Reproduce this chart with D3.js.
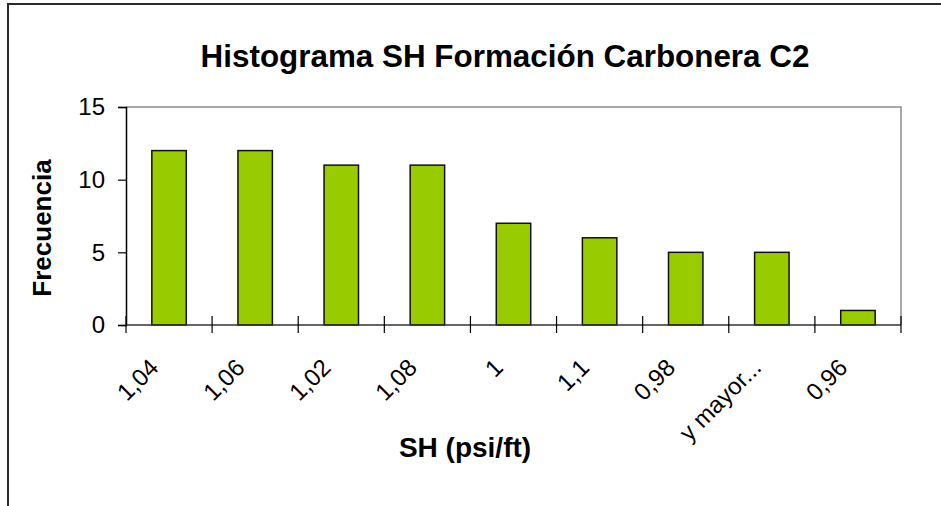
<!DOCTYPE html>
<html>
<head>
<meta charset="utf-8">
<script src="https://cdn.jsdelivr.net/npm/d3@7"></script>
<style>
  html, body { margin: 0; padding: 0; background: #fff; }
  svg { display: block; font-family: Arial, "Liberation Sans", sans-serif; }
</style>
</head>
<body>
<svg id="chart" width="941" height="506"></svg>
<script>
// Histogram bins (as labelled) and their frequencies
const categories = ["1,04", "1,06", "1,02", "1,08", "1", "1,1", "0,98", "y mayor...", "0,96"];
const frequencies = [12, 12, 11, 11, 7, 6, 5, 5, 1];
const yTicks = [0, 5, 10, 15];
const titleText = "Histograma SH Formación Carbonera C2";
const xTitle = "SH (psi/ft)";
const yTitle = "Frecuencia";

const svg = d3.select("#chart");
const plot = { left: 126, right: 901, top: 107, bottom: 325 };

// Outer chart frame (runs past the window on right and bottom)
svg.append("rect")
  .attr("x", 8).attr("y", 4)
  .attr("width", 1200).attr("height", 1200)
  .attr("fill", "none").attr("stroke", "#2a2a2a").attr("stroke-width", 2);

const x = d3.scaleBand()
  .domain(categories)
  .range([plot.left, plot.right])
  .paddingInner(0).paddingOuter(0);

const y = d3.scaleLinear()
  .domain([0, 15])
  .range([plot.bottom, plot.top]);

// Plot-area border (top and right edges in gray)
svg.append("path")
  .attr("d", `M${plot.left},${plot.top}H${plot.right}V${plot.bottom}`)
  .attr("fill", "none").attr("stroke", "#8c8c8c").attr("stroke-width", 1.5);

// Bars: 40% of each category slot, centred
const barW = x.bandwidth() * 0.4;
svg.append("g").selectAll("rect")
  .data(categories)
  .join("rect")
  .attr("x", (d) => x(d) + (x.bandwidth() - barW) / 2)
  .attr("y", (d, i) => y(frequencies[i]))
  .attr("width", barW)
  .attr("height", (d, i) => y(0) - y(frequencies[i]))
  .attr("fill", "#99cc00")
  .attr("stroke", "#111")
  .attr("stroke-width", 1.5);

// Y axis
const yAxis = d3.axisLeft(y).tickValues(yTicks).tickSize(8).tickPadding(13);
const gy = svg.append("g").attr("transform", `translate(${plot.left},0)`).call(yAxis);
gy.select(".domain").attr("stroke", "#000").attr("stroke-width", 1.5);
gy.selectAll(".tick line").attr("stroke", "#000").attr("stroke-width", 1.2);
gy.selectAll(".tick text").attr("font-size", 24).attr("fill", "#000")
  .attr("font-family", "Arial, 'Liberation Sans', sans-serif");

// X axis: ticks at category boundaries, crossing the axis line
const boundaries = categories.map((d) => x(d)).concat([x.range()[1]]);
const gx = svg.append("g");
gx.append("line")
  .attr("x1", plot.left).attr("x2", plot.right)
  .attr("y1", y(0)).attr("y2", y(0))
  .attr("stroke", "#333").attr("stroke-width", 1.5);
gx.selectAll("line.tk")
  .data(boundaries)
  .join("line")
  .attr("class", "tk")
  .attr("x1", (d) => d).attr("x2", (d) => d)
  .attr("y1", y(0) - 9).attr("y2", y(0) + 8)
  .attr("stroke", "#000").attr("stroke-width", 1.2);

// Rotated category labels
gx.selectAll("text")
  .data(categories)
  .join("text")
  .attr("text-anchor", "end")
  .attr("font-size", 24)
  .attr("transform", (d) => `translate(${x(d) + x.bandwidth() / 2 - 9},${y(0) + 44}) rotate(-45)`)
  .text((d) => d);

// Titles
svg.append("text")
  .attr("x", 505).attr("y", 67)
  .attr("text-anchor", "middle")
  .attr("font-size", 31.4).attr("font-weight", "bold")
  .text(titleText);

svg.append("text")
  .attr("x", 465).attr("y", 457)
  .attr("text-anchor", "middle")
  .attr("font-size", 28).attr("font-weight", "bold")
  .text(xTitle);

svg.append("text")
  .attr("transform", "translate(51,228) rotate(-90)")
  .attr("text-anchor", "middle")
  .attr("font-size", 26).attr("font-weight", "bold")
  .text(yTitle);
</script>
</body>
</html>
